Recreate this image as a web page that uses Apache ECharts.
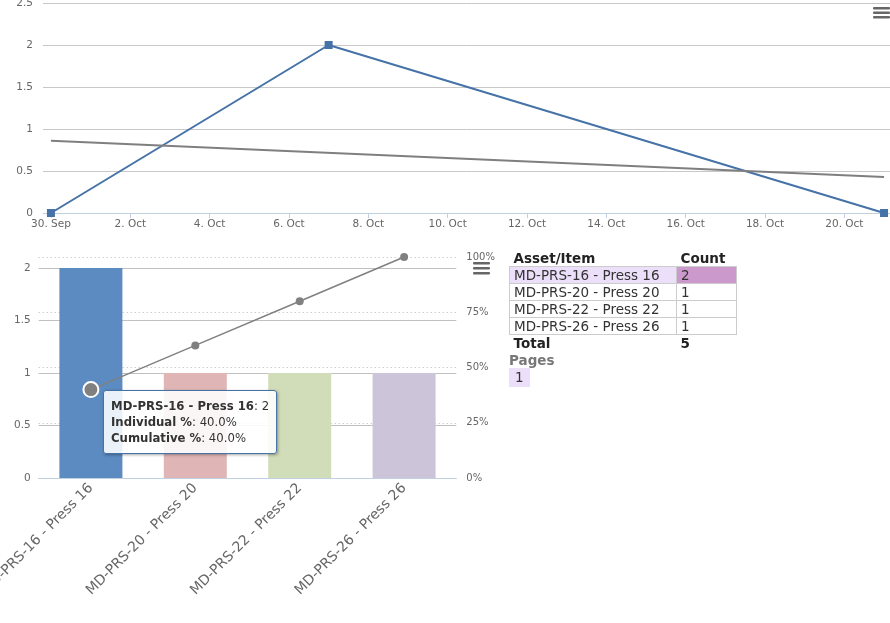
<!DOCTYPE html>
<html>
<head>
<meta charset="utf-8">
<script src="https://cdn.jsdelivr.net/npm/echarts@6/dist/echarts.min.js"></script>
<style>
  html, body { margin: 0; padding: 0; background: #fff; }
  #chart { position: absolute; left: 0; top: 0; width: 890px; height: 623px; }
  #side { position: absolute; left: 509px; top: 250px; font-family: "DejaVu Sans", Verdana, sans-serif; font-size: 13.5px; color: #333; }
  #side table { border-collapse: collapse; }
  #side td { height: 16px; line-height: 16px; padding: 0 4px; white-space: nowrap; }
  #side tr.row td { border: 1px solid #ccc; }
  #side tr.head td, #side tr.total td { font-weight: bold; color: #222; }
  #side td.c1 { width: 158px; }
  #side td.c2 { width: 51px; }
  #side .sel1 { background: #ecdffa; }
  #side .sel2 { background: #cc99cc; }
  #side .pages { font-weight: bold; color: #777; line-height: 16px; margin-top: 1px; }
  #side .page { display: inline-block; width: 21px; height: 19px; line-height: 19px; text-indent: 6px; background: #ecdffa; }
</style>
</head>
<body>
<div id="chart"></div>
<div id="side"></div>
<script>
// top chart: counts over time
var dates = ['2014-09-30', '2014-10-07', '2014-10-21'];
var countValues = [0, 2, 0];
var trendDates = ['2014-09-30', '2014-10-21'];
var trendValues = [0.86, 0.43];
var dayTicks = ['2014-09-30', '2014-10-02', '2014-10-04', '2014-10-06', '2014-10-08', '2014-10-10',
  '2014-10-12', '2014-10-14', '2014-10-16', '2014-10-18', '2014-10-20'];
var monthNames = ['Jan', 'Feb', 'Mar', 'Apr', 'May', 'Jun', 'Jul', 'Aug', 'Sep', 'Oct', 'Nov', 'Dec'];

// bottom chart: pareto
var assets = ['MD-PRS-16 - Press 16', 'MD-PRS-20 - Press 20', 'MD-PRS-22 - Press 22', 'MD-PRS-26 - Press 26'];
var counts = [2, 1, 1, 1];
var individualPct = [40, 20, 20, 20];
var cumulativePct = [40, 60, 80, 100];
var countTotal = 5;

var barColors = ['#5b8bc1', '#dfb5b5', '#d1dcb8', '#ccc4d8'];
var DAY = 86400000;

function ts(s) {
  var p = s.split('-');
  return new Date(+p[0], +p[1] - 1, +p[2]).getTime();
}

var font = '"DejaVu Sans", Verdana, sans-serif';
var labelColor = '#666';

var myChart = echarts.init(document.getElementById('chart'));

var option = {
  animation: false,
  textStyle: { fontFamily: font },
  grid: [
    { left: 43, right: 0, top: 3, height: 210, outerBoundsMode: 'none' },
    { left: 38.7, width: 417.6, top: 268, height: 210, outerBoundsMode: 'none' },
    { left: 38.7, width: 417.6, top: 257, height: 221, outerBoundsMode: 'none' }
  ],
  xAxis: [
    {
      // timestamps on a value axis so ticks can sit on every second day
      type: 'value',
      gridIndex: 0,
      min: ts(dates[0]) - 0.2 * DAY,
      max: ts(dates[dates.length - 1]) + 0.15 * DAY,
      axisLine: { lineStyle: { color: '#c0d0e0' } },
      axisTick: { show: true, length: 5, lineStyle: { color: '#c0d0e0' }, customValues: dayTicks.map(ts) },
      splitLine: { show: false },
      axisLabel: {
        color: labelColor, fontSize: 10.5, margin: 6,
        customValues: dayTicks.map(ts),
        formatter: function (val) {
          var d = new Date(val);
          return d.getDate() + '. ' + monthNames[d.getMonth()];
        }
      }
    },
    {
      type: 'category',
      gridIndex: 1,
      data: assets,
      axisLine: { lineStyle: { color: '#c0d0e0' } },
      axisTick: { length: 5, lineStyle: { color: '#c0d0e0' } },
      axisLabel: { color: labelColor, fontSize: 14, rotate: 45, margin: 8, interval: 0 }
    },
    {
      type: 'category',
      gridIndex: 2,
      data: assets,
      show: false
    }
  ],
  yAxis: [
    {
      type: 'value',
      gridIndex: 0,
      min: 0, max: 2.5, interval: 0.5,
      axisLine: { show: false },
      axisTick: { show: false },
      axisLabel: { color: labelColor, fontSize: 10.5, margin: 10 },
      splitLine: { lineStyle: { color: '#c8c8c8' } }
    },
    {
      type: 'value',
      gridIndex: 1,
      min: 0, max: 2, interval: 0.5,
      axisLine: { show: false },
      axisTick: { show: false },
      axisLabel: { color: labelColor, fontSize: 10.5, margin: 8 },
      splitLine: { lineStyle: { color: '#c0c0c0' } }
    },
    {
      type: 'value',
      gridIndex: 2,
      position: 'right',
      min: 0, max: 100, interval: 25,
      axisLine: { show: false },
      axisTick: { show: false },
      axisLabel: { color: labelColor, fontSize: 10, margin: 10, formatter: '{value}%' },
      splitLine: { lineStyle: { color: '#b8b8b8', type: [1, 3] } }
    }
  ],
  tooltip: {
    trigger: 'item',
    alwaysShowContent: true,
    transitionDuration: 0,
    position: [103, 390],
    backgroundColor: 'rgba(255,255,255,0.88)',
    borderColor: '#4572a7',
    borderWidth: 1,
    borderRadius: 3,
    padding: [7, 7],
    textStyle: { fontFamily: font, fontSize: 11.7, color: '#333' },
    extraCssText: 'box-shadow: 1px 1px 3px rgba(0,0,0,0.35); line-height: 16px;',
    formatter: function (p) {
      var i = p.dataIndex;
      return '<b>' + assets[i] + '</b>: ' + counts[i] + '<br/>' +
        '<b>Individual %</b>: ' + individualPct[i].toFixed(1) + '%<br/>' +
        '<b>Cumulative %</b>: ' + cumulativePct[i].toFixed(1) + '%';
    }
  },
  graphic: [
    { type: 'rect', shape: { x: 873, y: 7, width: 17, height: 2.5, r: 1 }, style: { fill: '#666' } },
    { type: 'rect', shape: { x: 873, y: 11.5, width: 17, height: 2.5, r: 1 }, style: { fill: '#666' } },
    { type: 'rect', shape: { x: 873, y: 16, width: 17, height: 2.5, r: 1 }, style: { fill: '#666' } },
    { type: 'rect', shape: { x: 473, y: 262, width: 17, height: 2.5, r: 1 }, style: { fill: '#666' } },
    { type: 'rect', shape: { x: 473, y: 267, width: 17, height: 2.5, r: 1 }, style: { fill: '#666' } },
    { type: 'rect', shape: { x: 473, y: 272, width: 17, height: 2.5, r: 1 }, style: { fill: '#666' } }
  ],
  series: [
    {
      type: 'line',
      xAxisIndex: 0, yAxisIndex: 0,
      data: dates.map(function (d, i) { return [ts(d), countValues[i]]; }),
      symbol: 'rect', symbolSize: 8,
      lineStyle: { color: '#4572a7', width: 2 },
      itemStyle: { color: '#4572a7' },
      tooltip: { show: false },
      silent: true
    },
    {
      type: 'line',
      xAxisIndex: 0, yAxisIndex: 0,
      data: trendDates.map(function (d, i) { return [ts(d), trendValues[i]]; }),
      symbol: 'none',
      lineStyle: { color: '#7f7f7f', width: 2 },
      tooltip: { show: false },
      silent: true
    },
    {
      type: 'bar',
      xAxisIndex: 1, yAxisIndex: 1,
      data: counts,
      barWidth: 63,
      itemStyle: { color: function (p) { return barColors[p.dataIndex % barColors.length]; } },
      tooltip: { show: false },
      silent: true
    },
    {
      type: 'line',
      xAxisIndex: 2, yAxisIndex: 2,
      data: cumulativePct.map(function (v, i) {
        return i === 0 ? { value: v, symbolSize: 15, itemStyle: { borderColor: '#fff', borderWidth: 2 } } : v;
      }),
      symbol: 'circle', symbolSize: 8,
      lineStyle: { color: '#808080', width: 1.5 },
      itemStyle: { color: '#808080' },
      emphasis: { disabled: true },
      z: 5
    }
  ]
};

myChart.setOption(option);
myChart.dispatchAction({ type: 'showTip', seriesIndex: 3, dataIndex: 0 });

// side table
var html = '<table>';
html += '<tr class="head"><td class="c1">Asset/Item</td><td class="c2">Count</td></tr>';
assets.forEach(function (a, i) {
  html += '<tr class="row"><td class="c1' + (i === 0 ? ' sel1' : '') + '">' + a + '</td>' +
    '<td class="c2' + (i === 0 ? ' sel2' : '') + '">' + counts[i] + '</td></tr>';
});
html += '<tr class="total"><td class="c1">Total</td><td class="c2">' + countTotal + '</td></tr>';
html += '</table>';
html += '<div class="pages">Pages</div><div class="page">1</div>';
document.getElementById('side').innerHTML = html;
</script>
</body>
</html>
